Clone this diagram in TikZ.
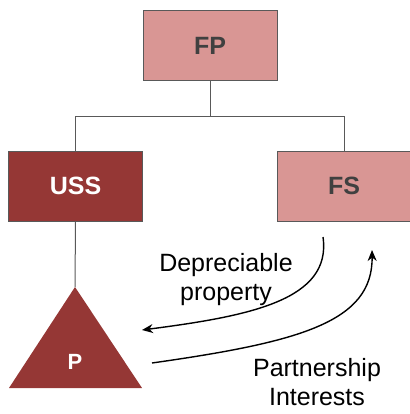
\documentclass[tikz,border=0pt]{standalone}
\usepackage{fontspec}
\setmainfont{Liberation Sans}
\usetikzlibrary{arrows.meta}

\definecolor{lightred}{HTML}{D99694}
\definecolor{darkred}{HTML}{953735}
\definecolor{boxgray}{HTML}{595959}
\definecolor{textgray}{HTML}{404040}

\begin{document}
\begin{tikzpicture}[
    x=1pt, y=-1pt,
    % Styles
    entity/.style={draw=boxgray, line width=1pt, minimum width=134pt, minimum height=70pt,
                   font=\bfseries\fontsize{25}{28}\selectfont},
    foreign/.style={entity, fill=lightred, text=textgray},   % foreign entities
    domestic/.style={entity, fill=darkred, text=white},      % US entities
    link/.style={draw=boxgray, line width=1pt},
    flow/.style={-{Stealth[length=11pt,width=9pt]}, line width=1.4pt, black},
    note/.style={align=center, inner sep=0pt, font=\fontsize{25}{29}\selectfont}
]
  \useasboundingbox (0,0) rectangle (409,414);

  % Entities
  \node[foreign]  (FP)  at (210,46)   {FP};
  \node[domestic] (USS) at (75.5,186) {USS};
  \node[foreign]  (FS)  at (344,186)  {FS};

  % Partnership (triangle)
  \fill[darkred] (75,287) -- (142,388) -- (9,388) -- cycle;
  \coordinate (Ptop) at (75,287);
  \node[font=\bfseries\fontsize{22}{26}\selectfont, text=white] (P) at (75,362) {P};

  % Ownership lines
  \draw[link] (FP.south) -- ++(0,35) -| (USS.north);
  \draw[link] (FP.south) -- ++(0,35) -| (FS.north);
  \draw[link] (USS.south) -- (Ptop);

  % Transfers
  \coordinate (out1) at (323,237);
  \coordinate (in1)  at (142,330);
  \coordinate (out2) at (152,363);
  \coordinate (in2)  at (372,250);
  \draw[flow] (out1) .. controls (332,300) and (250,316) .. (in1);
  \draw[flow] (out2) .. controls (300,342) and (373,322) .. (in2);

  % Labels
  \node[note] (dep)  at (226,280) {Depreciable\\property};
  \node[note] (part) at (317,382) {Partnership\\Interests};

\end{tikzpicture}
\end{document}
